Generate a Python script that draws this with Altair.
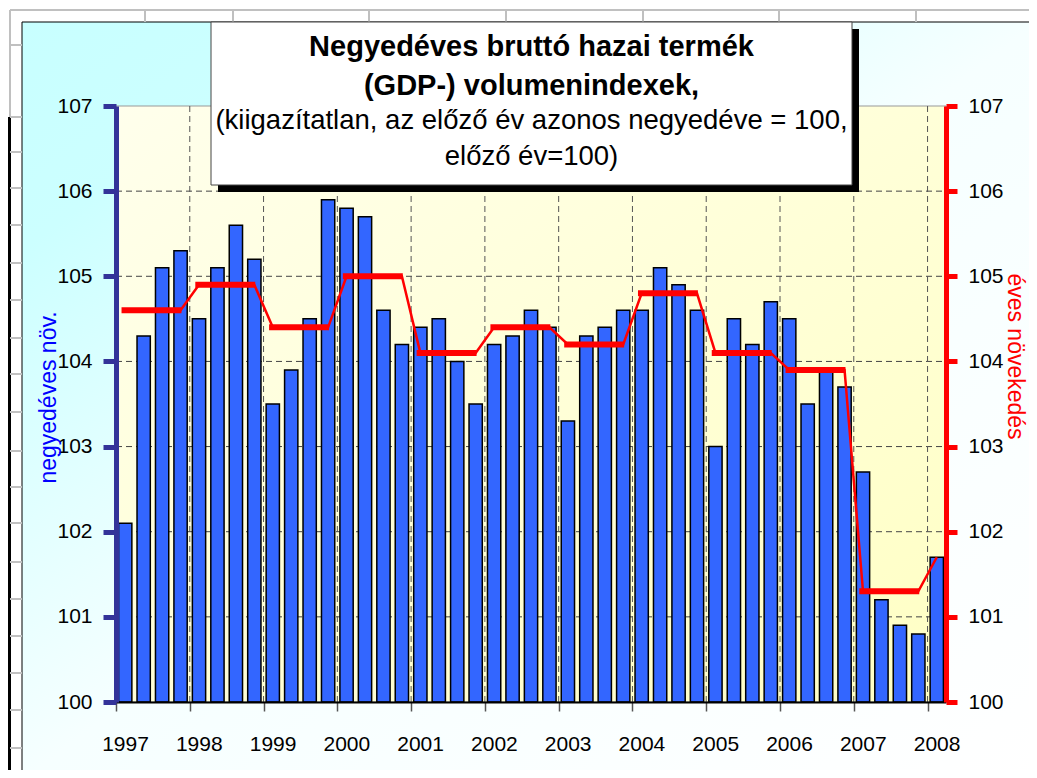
import altair as alt
import pandas as pd

# ---------------- data ----------------
years = list(range(1997, 2009))
quarterly = [
    102.1, 104.3, 105.1, 105.3,   # 1997
    104.5, 105.1, 105.6, 105.2,   # 1998
    103.5, 103.9, 104.5, 105.9,   # 1999
    105.8, 105.7, 104.6, 104.2,   # 2000
    104.4, 104.5, 104.0, 103.5,   # 2001
    104.2, 104.3, 104.6, 104.4,   # 2002
    103.3, 104.3, 104.4, 104.6,   # 2003
    104.6, 105.1, 104.9, 104.6,   # 2004
    103.0, 104.5, 104.2, 104.7,   # 2005
    104.5, 103.5, 103.9, 103.7,   # 2006
    102.7, 101.2, 100.9, 100.8,   # 2007
    101.7,                        # 2008
]
annual = [104.6, 104.9, 104.4, 105.0, 104.1, 104.4, 104.2, 104.8, 104.1, 103.9, 101.3, 101.7]
y_ticks = list(range(100, 108))
title_lines = [
    "Negyedéves bruttó hazai termék",
    "(GDP-) volumenindexek,",
    "(kiigazítatlan, az előző év azonos negyedéve = 100,",
    "előző év=100)",
]
left_title = "negyedéves növ."
right_title = "éves növekedés"

# ---------------- layout constants ----------------
W, H = 830, 596
OX, OY = 116, 106          # page position of the plot origin
NARROW = "Liberation Sans Narrow, Arial Narrow, sans-serif"
SANS = "Liberation Sans, Arial, sans-serif"

n = len(quarterly)
q_df = pd.DataFrame({
    "idx": list(range(n)),
    "value": quarterly,
    "year": [years[i // 4] for i in range(n)],
})
q_df["x0"] = q_df["idx"] + 0.14
q_df["x1"] = q_df["idx"] + 0.86
q_df["xc"] = q_df["idx"] + 0.5
q_df["annual"] = [annual[i // 4] for i in range(n)]

thick_df = pd.DataFrame({
    "year": years[:-1],
    "annual": annual[:-1],
})
thick_df["xs"] = [4 * k + 0.3 for k in range(len(thick_df))]
thick_df["xe"] = [4 * k + 3.55 for k in range(len(thick_df))]

hgrid_df = pd.DataFrame({"v": y_ticks[1:-1]})
vgrid_df = pd.DataFrame({"b": list(range(4, n, 4))})

xscale = alt.Scale(domain=[0, n], nice=False, zero=False)
yscale = alt.Scale(domain=[100, 107], nice=False, zero=False)

x_axis = alt.Axis(
    values=list(range(0, n, 4)),
    labelExpr="toString(1997 + datum.value / 4)",
    title=None, grid=False, zindex=1,
    domainColor="black", domainWidth=2,
    tickColor="#555555", tickWidth=1.5, tickSize=9,
    labelFont=NARROW, labelFontSize=21, labelColor="black",
    labelPadding=22, labelOffset=9, labelOverlap=False, labelFlush=False,
)
left_axis = alt.Axis(
    values=y_ticks, format="d", grid=False, zindex=1,
    domainColor="#333399", domainWidth=5,
    tickColor="#333399", tickWidth=5, tickSize=13,
    labelFont=NARROW, labelFontSize=21, labelColor="black", labelPadding=11,
    title=left_title, titleFont=SANS, titleFontSize=23, titleFontWeight="normal",
    titleColor="#0000FF", titleAngle=270, titleX=-68, titleY=291,
    titleAlign="center", titleBaseline="middle",
)
right_axis = alt.Axis(
    orient="right", values=y_ticks, format="d", grid=False, zindex=1,
    domainColor="#FF0000", domainWidth=5,
    tickColor="#FF0000", tickWidth=5, tickSize=11,
    labelFont=NARROW, labelFontSize=21, labelColor="black", labelPadding=11,
    title=right_title, titleFont=SANS, titleFontSize=23, titleFontWeight="normal",
    titleColor="#FF0000", titleAngle=90, titleX=68, titleY=250,
    titleAlign="center", titleBaseline="middle",
)

one = alt.Chart(pd.DataFrame({"k": [0]}))


def hrule(x1, x2, y, color, w):
    return one.mark_rule(color=color, strokeWidth=w).encode(
        x=alt.value(x1), x2=alt.value(x2), y=alt.value(y))


def vrule(x, y1, y2, color, w):
    return one.mark_rule(color=color, strokeWidth=w).encode(
        x=alt.value(x), y=alt.value(y1), y2=alt.value(y2))


# spreadsheet cell lines around the embedded chart
sheet = [hrule(10 - OX, 1037 - OX, 10 - OY, "#C0C0C0", 2),
         vrule(10 - OX, 10 - OY, 117 - OY, "#C0C0C0", 2),
         vrule(9.5 - OX, 117 - OY, 778 - OY, "black", 3)]
for cx in [145, 233, 369, 506, 643, 779, 916]:
    sheet.append(vrule(cx - OX, 10 - OY, 22 - OY, "#C0C0C0", 2))
for ry in [45, 117, 152, 188, 225, 263, 300, 338, 374, 412, 451, 487,
           523, 562, 599, 636, 673, 710, 748]:
    sheet.append(hrule(10 - OX, 22 - OX, ry - OY, "#C0C0C0", 2))

cyan_grad = {
    "gradient": "linear", "x1": 0, "y1": 0, "x2": 1, "y2": 1,
    "stops": [
        {"offset": 0, "color": "#C8FFFF"},
        {"offset": 0.15, "color": "#CCFFFF"},
        {"offset": 0.35, "color": "#E4FFFF"},
        {"offset": 0.5, "color": "#F6FFFF"},
        {"offset": 1, "color": "#FFFFFF"},
    ],
}
yellow_grad = {
    "gradient": "linear", "x1": 0, "y1": 0, "x2": 1, "y2": 1,
    "stops": [
        {"offset": 0, "color": "#FFFFEC"},
        {"offset": 1, "color": "#FFFFC4"},
    ],
}

chart_area = one.mark_rect(fill=cyan_grad, stroke="black", strokeWidth=1).encode(
    x=alt.value(22 - OX), x2=alt.value(1040 - OX),
    y=alt.value(22 - OY), y2=alt.value(780 - OY))
plot_area = one.mark_rect(fill=yellow_grad, stroke="#999999", strokeWidth=1).encode(
    x=alt.value(0), x2=alt.value(W), y=alt.value(0), y2=alt.value(H))

hgrid = alt.Chart(hgrid_df).mark_rule(color="#444444", strokeWidth=1, strokeDash=[6, 4]).encode(
    y=alt.Y("v:Q", scale=yscale, axis=left_axis),
    x=alt.value(0), x2=alt.value(W))
vgrid = alt.Chart(vgrid_df).mark_rule(color="#555555", strokeWidth=1, strokeDash=[6, 4]).encode(
    x=alt.X("b:Q", scale=xscale, axis=x_axis),
    y=alt.value(0), y2=alt.value(H))
bars = alt.Chart(q_df).mark_bar(color="#3366FF", stroke="black", strokeWidth=1.5).encode(
    x=alt.X("x0:Q", scale=xscale, axis=x_axis),
    x2="x1:Q",
    y=alt.Y("value:Q", scale=yscale, axis=left_axis),
    y2=alt.datum(100),
)
left_group = alt.layer(hgrid, vgrid, bars)

thin = alt.Chart(q_df).mark_line(color="#FF0000", strokeWidth=2.5).encode(
    x=alt.X("xc:Q", scale=xscale, axis=x_axis),
    y=alt.Y("annual:Q", scale=yscale, axis=right_axis),
    order="idx:Q",
)
thick = alt.Chart(thick_df).mark_rule(color="#FF0000", strokeWidth=6, strokeCap="butt").encode(
    x=alt.X("xs:Q", scale=xscale, axis=x_axis),
    x2="xe:Q",
    y=alt.Y("annual:Q", scale=yscale, axis=right_axis),
)
right_group = alt.layer(thin, thick)

# title box
shadow = one.mark_rect(fill="black").encode(
    x=alt.value(218 - OX), x2=alt.value(859 - OX), y=alt.value(29 - OY), y2=alt.value(192 - OY))
box = one.mark_rect(fill="white", stroke="#444444", strokeWidth=1).encode(
    x=alt.value(211 - OX), x2=alt.value(852 - OX), y=alt.value(22 - OY), y2=alt.value(185 - OY))
cx_title = (211 + 852) / 2 - OX
texts = []
for line, yy, bold in zip(title_lines, [47, 86, 121, 157], [True, True, False, False]):
    texts.append(one.mark_text(
        font=SANS, fontSize=29 if bold else 27.5,
        fontWeight="bold" if bold else "normal",
        align="center", baseline="middle", color="black",
    ).encode(x=alt.value(cx_title), y=alt.value(yy - OY), text=alt.value(line)))

chart = alt.layer(
    chart_area, *sheet, plot_area, left_group, right_group, shadow, box, *texts
).resolve_scale(y="independent").properties(
    width=W, height=H,
    padding={"left": OX - 8, "top": OY - 8, "right": 1029 - OX - W, "bottom": 770 - OY - H},
    autosize=alt.AutoSizeParams(type="none"),
    background="white",
).configure_view(strokeWidth=0)

chart.save("out.html", embed_options={"renderer": "svg", "actions": False})
